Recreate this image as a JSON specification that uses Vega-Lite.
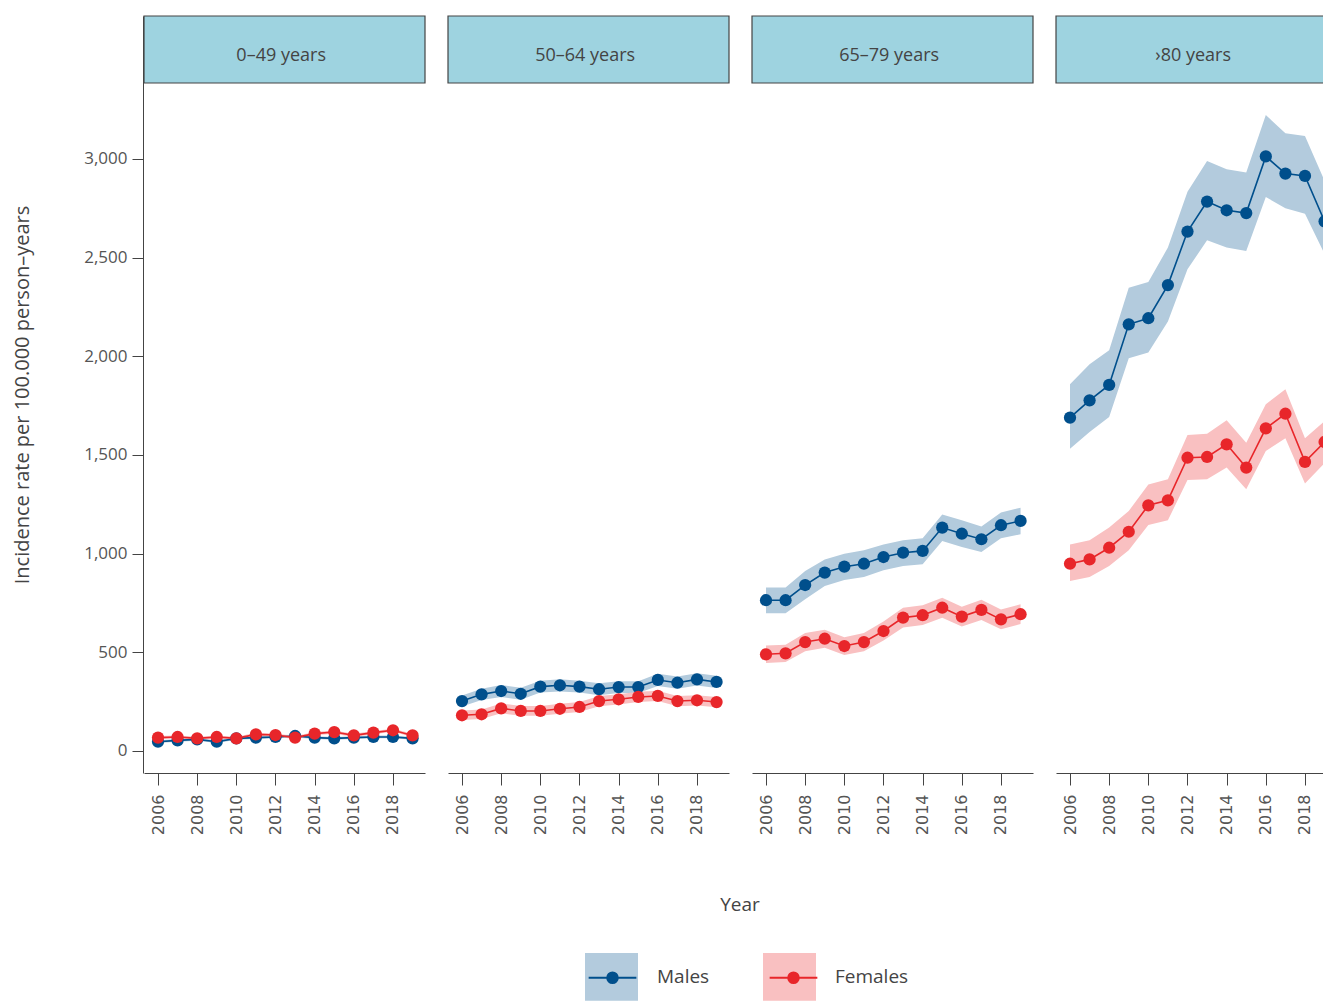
{
  "$schema": "https://vega.github.io/schema/vega-lite/v6.json",
  "padding": {"top": 15, "left": 12, "right": 0, "bottom": 0},
  "background": "white",
  "datasets": {
    "rates": [
      {"age": "0–49 years", "sex": "Males", "year": 2006, "rate": 47, "lo": 40, "hi": 54},
      {"age": "0–49 years", "sex": "Males", "year": 2007, "rate": 54, "lo": 47, "hi": 61},
      {"age": "0–49 years", "sex": "Males", "year": 2008, "rate": 59, "lo": 52, "hi": 66},
      {"age": "0–49 years", "sex": "Males", "year": 2009, "rate": 47, "lo": 40, "hi": 54},
      {"age": "0–49 years", "sex": "Males", "year": 2010, "rate": 64, "lo": 57, "hi": 71},
      {"age": "0–49 years", "sex": "Males", "year": 2011, "rate": 68, "lo": 61, "hi": 75},
      {"age": "0–49 years", "sex": "Males", "year": 2012, "rate": 71, "lo": 64, "hi": 78},
      {"age": "0–49 years", "sex": "Males", "year": 2013, "rate": 76, "lo": 69, "hi": 83},
      {"age": "0–49 years", "sex": "Males", "year": 2014, "rate": 68, "lo": 61, "hi": 75},
      {"age": "0–49 years", "sex": "Males", "year": 2015, "rate": 64, "lo": 57, "hi": 71},
      {"age": "0–49 years", "sex": "Males", "year": 2016, "rate": 68, "lo": 61, "hi": 75},
      {"age": "0–49 years", "sex": "Males", "year": 2017, "rate": 71, "lo": 64, "hi": 78},
      {"age": "0–49 years", "sex": "Males", "year": 2018, "rate": 71, "lo": 64, "hi": 78},
      {"age": "0–49 years", "sex": "Males", "year": 2019, "rate": 64, "lo": 57, "hi": 71},
      {"age": "0–49 years", "sex": "Females", "year": 2006, "rate": 68, "lo": 60, "hi": 76},
      {"age": "0–49 years", "sex": "Females", "year": 2007, "rate": 71, "lo": 63, "hi": 79},
      {"age": "0–49 years", "sex": "Females", "year": 2008, "rate": 64, "lo": 56, "hi": 72},
      {"age": "0–49 years", "sex": "Females", "year": 2009, "rate": 71, "lo": 63, "hi": 79},
      {"age": "0–49 years", "sex": "Females", "year": 2010, "rate": 64, "lo": 56, "hi": 72},
      {"age": "0–49 years", "sex": "Females", "year": 2011, "rate": 84, "lo": 76, "hi": 92},
      {"age": "0–49 years", "sex": "Females", "year": 2012, "rate": 81, "lo": 73, "hi": 89},
      {"age": "0–49 years", "sex": "Females", "year": 2013, "rate": 68, "lo": 60, "hi": 76},
      {"age": "0–49 years", "sex": "Females", "year": 2014, "rate": 88, "lo": 80, "hi": 96},
      {"age": "0–49 years", "sex": "Females", "year": 2015, "rate": 96, "lo": 88, "hi": 104},
      {"age": "0–49 years", "sex": "Females", "year": 2016, "rate": 79, "lo": 71, "hi": 87},
      {"age": "0–49 years", "sex": "Females", "year": 2017, "rate": 93, "lo": 85, "hi": 101},
      {"age": "0–49 years", "sex": "Females", "year": 2018, "rate": 105, "lo": 97, "hi": 113},
      {"age": "0–49 years", "sex": "Females", "year": 2019, "rate": 79, "lo": 71, "hi": 87},
      {"age": "50–64 years", "sex": "Males", "year": 2006, "rate": 253, "lo": 225, "hi": 281},
      {"age": "50–64 years", "sex": "Males", "year": 2007, "rate": 287, "lo": 258, "hi": 316},
      {"age": "50–64 years", "sex": "Males", "year": 2008, "rate": 304, "lo": 274, "hi": 334},
      {"age": "50–64 years", "sex": "Males", "year": 2009, "rate": 290, "lo": 260, "hi": 320},
      {"age": "50–64 years", "sex": "Males", "year": 2010, "rate": 326, "lo": 296, "hi": 356},
      {"age": "50–64 years", "sex": "Males", "year": 2011, "rate": 333, "lo": 302, "hi": 364},
      {"age": "50–64 years", "sex": "Males", "year": 2012, "rate": 326, "lo": 296, "hi": 356},
      {"age": "50–64 years", "sex": "Males", "year": 2013, "rate": 313, "lo": 283, "hi": 343},
      {"age": "50–64 years", "sex": "Males", "year": 2014, "rate": 324, "lo": 294, "hi": 354},
      {"age": "50–64 years", "sex": "Males", "year": 2015, "rate": 324, "lo": 294, "hi": 354},
      {"age": "50–64 years", "sex": "Males", "year": 2016, "rate": 360, "lo": 329, "hi": 391},
      {"age": "50–64 years", "sex": "Males", "year": 2017, "rate": 346, "lo": 315, "hi": 377},
      {"age": "50–64 years", "sex": "Males", "year": 2018, "rate": 363, "lo": 332, "hi": 394},
      {"age": "50–64 years", "sex": "Males", "year": 2019, "rate": 350, "lo": 319, "hi": 381},
      {"age": "50–64 years", "sex": "Females", "year": 2006, "rate": 181, "lo": 157, "hi": 205},
      {"age": "50–64 years", "sex": "Females", "year": 2007, "rate": 186, "lo": 162, "hi": 210},
      {"age": "50–64 years", "sex": "Females", "year": 2008, "rate": 216, "lo": 191, "hi": 241},
      {"age": "50–64 years", "sex": "Females", "year": 2009, "rate": 203, "lo": 178, "hi": 228},
      {"age": "50–64 years", "sex": "Females", "year": 2010, "rate": 203, "lo": 178, "hi": 228},
      {"age": "50–64 years", "sex": "Females", "year": 2011, "rate": 214, "lo": 189, "hi": 239},
      {"age": "50–64 years", "sex": "Females", "year": 2012, "rate": 223, "lo": 198, "hi": 248},
      {"age": "50–64 years", "sex": "Females", "year": 2013, "rate": 253, "lo": 227, "hi": 279},
      {"age": "50–64 years", "sex": "Females", "year": 2014, "rate": 262, "lo": 236, "hi": 288},
      {"age": "50–64 years", "sex": "Females", "year": 2015, "rate": 274, "lo": 248, "hi": 300},
      {"age": "50–64 years", "sex": "Females", "year": 2016, "rate": 279, "lo": 253, "hi": 305},
      {"age": "50–64 years", "sex": "Females", "year": 2017, "rate": 253, "lo": 227, "hi": 279},
      {"age": "50–64 years", "sex": "Females", "year": 2018, "rate": 257, "lo": 231, "hi": 283},
      {"age": "50–64 years", "sex": "Females", "year": 2019, "rate": 248, "lo": 222, "hi": 274},
      {"age": "65–79 years", "sex": "Males", "year": 2006, "rate": 764, "lo": 698, "hi": 828},
      {"age": "65–79 years", "sex": "Males", "year": 2007, "rate": 764, "lo": 698, "hi": 828},
      {"age": "65–79 years", "sex": "Males", "year": 2008, "rate": 841, "lo": 769, "hi": 912},
      {"age": "65–79 years", "sex": "Males", "year": 2009, "rate": 904, "lo": 836, "hi": 971},
      {"age": "65–79 years", "sex": "Males", "year": 2010, "rate": 934, "lo": 867, "hi": 1000},
      {"age": "65–79 years", "sex": "Males", "year": 2011, "rate": 949, "lo": 882, "hi": 1017},
      {"age": "65–79 years", "sex": "Males", "year": 2012, "rate": 983, "lo": 916, "hi": 1047},
      {"age": "65–79 years", "sex": "Males", "year": 2013, "rate": 1005, "lo": 938, "hi": 1068},
      {"age": "65–79 years", "sex": "Males", "year": 2014, "rate": 1014, "lo": 946, "hi": 1078},
      {"age": "65–79 years", "sex": "Males", "year": 2015, "rate": 1132, "lo": 1064, "hi": 1199},
      {"age": "65–79 years", "sex": "Males", "year": 2016, "rate": 1101, "lo": 1034, "hi": 1169},
      {"age": "65–79 years", "sex": "Males", "year": 2017, "rate": 1073, "lo": 1008, "hi": 1137},
      {"age": "65–79 years", "sex": "Males", "year": 2018, "rate": 1144, "lo": 1078, "hi": 1208},
      {"age": "65–79 years", "sex": "Males", "year": 2019, "rate": 1166, "lo": 1098, "hi": 1233},
      {"age": "65–79 years", "sex": "Females", "year": 2006, "rate": 490, "lo": 446, "hi": 534},
      {"age": "65–79 years", "sex": "Females", "year": 2007, "rate": 495, "lo": 451, "hi": 539},
      {"age": "65–79 years", "sex": "Females", "year": 2008, "rate": 552, "lo": 506, "hi": 598},
      {"age": "65–79 years", "sex": "Females", "year": 2009, "rate": 569, "lo": 523, "hi": 615},
      {"age": "65–79 years", "sex": "Females", "year": 2010, "rate": 532, "lo": 487, "hi": 577},
      {"age": "65–79 years", "sex": "Females", "year": 2011, "rate": 552, "lo": 506, "hi": 598},
      {"age": "65–79 years", "sex": "Females", "year": 2012, "rate": 608, "lo": 560, "hi": 656},
      {"age": "65–79 years", "sex": "Females", "year": 2013, "rate": 676, "lo": 626, "hi": 726},
      {"age": "65–79 years", "sex": "Females", "year": 2014, "rate": 688, "lo": 638, "hi": 738},
      {"age": "65–79 years", "sex": "Females", "year": 2015, "rate": 726, "lo": 675, "hi": 777},
      {"age": "65–79 years", "sex": "Females", "year": 2016, "rate": 681, "lo": 631, "hi": 731},
      {"age": "65–79 years", "sex": "Females", "year": 2017, "rate": 715, "lo": 664, "hi": 766},
      {"age": "65–79 years", "sex": "Females", "year": 2018, "rate": 667, "lo": 617, "hi": 717},
      {"age": "65–79 years", "sex": "Females", "year": 2019, "rate": 693, "lo": 643, "hi": 743},
      {"age": "›80 years", "sex": "Males", "year": 2006, "rate": 1689, "lo": 1532, "hi": 1858},
      {"age": "›80 years", "sex": "Males", "year": 2007, "rate": 1777, "lo": 1617, "hi": 1960},
      {"age": "›80 years", "sex": "Males", "year": 2008, "rate": 1855, "lo": 1693, "hi": 2031},
      {"age": "›80 years", "sex": "Males", "year": 2009, "rate": 2162, "lo": 1990, "hi": 2348},
      {"age": "›80 years", "sex": "Males", "year": 2010, "rate": 2193, "lo": 2019, "hi": 2377},
      {"age": "›80 years", "sex": "Males", "year": 2011, "rate": 2361, "lo": 2176, "hi": 2551},
      {"age": "›80 years", "sex": "Males", "year": 2012, "rate": 2632, "lo": 2441, "hi": 2834},
      {"age": "›80 years", "sex": "Males", "year": 2013, "rate": 2784, "lo": 2588, "hi": 2990},
      {"age": "›80 years", "sex": "Males", "year": 2014, "rate": 2740, "lo": 2551, "hi": 2948},
      {"age": "›80 years", "sex": "Males", "year": 2015, "rate": 2726, "lo": 2534, "hi": 2931},
      {"age": "›80 years", "sex": "Males", "year": 2016, "rate": 3013, "lo": 2807, "hi": 3223},
      {"age": "›80 years", "sex": "Males", "year": 2017, "rate": 2926, "lo": 2750, "hi": 3130},
      {"age": "›80 years", "sex": "Males", "year": 2018, "rate": 2914, "lo": 2723, "hi": 3117},
      {"age": "›80 years", "sex": "Males", "year": 2019, "rate": 2684, "lo": 2519, "hi": 2889},
      {"age": "›80 years", "sex": "Females", "year": 2006, "rate": 949, "lo": 862, "hi": 1047},
      {"age": "›80 years", "sex": "Females", "year": 2007, "rate": 971, "lo": 882, "hi": 1068},
      {"age": "›80 years", "sex": "Females", "year": 2008, "rate": 1030, "lo": 938, "hi": 1132},
      {"age": "›80 years", "sex": "Females", "year": 2009, "rate": 1111, "lo": 1017, "hi": 1216},
      {"age": "›80 years", "sex": "Females", "year": 2010, "rate": 1245, "lo": 1145, "hi": 1351},
      {"age": "›80 years", "sex": "Females", "year": 2011, "rate": 1270, "lo": 1169, "hi": 1377},
      {"age": "›80 years", "sex": "Females", "year": 2012, "rate": 1486, "lo": 1373, "hi": 1601},
      {"age": "›80 years", "sex": "Females", "year": 2013, "rate": 1490, "lo": 1377, "hi": 1608},
      {"age": "›80 years", "sex": "Females", "year": 2014, "rate": 1554, "lo": 1436, "hi": 1676},
      {"age": "›80 years", "sex": "Females", "year": 2015, "rate": 1436, "lo": 1326, "hi": 1562},
      {"age": "›80 years", "sex": "Females", "year": 2016, "rate": 1635, "lo": 1520, "hi": 1757},
      {"age": "›80 years", "sex": "Females", "year": 2017, "rate": 1709, "lo": 1585, "hi": 1833},
      {"age": "›80 years", "sex": "Females", "year": 2018, "rate": 1465, "lo": 1355, "hi": 1585},
      {"age": "›80 years", "sex": "Females", "year": 2019, "rate": 1566, "lo": 1459, "hi": 1672}
    ]
  },
  "data": {"name": "rates"},
  "facet": {
    "column": {
      "field": "age",
      "type": "nominal",
      "sort": ["0–49 years", "50–64 years", "65–79 years", "›80 years"],
      "title": "Year",
      "header": {
        "labels": false,
        "titleOrient": "bottom",
        "titleFont": "Open Sans",
        "titleFontSize": 19,
        "titleFontWeight": "normal",
        "titleColor": "#444444",
        "titlePadding": 51
      }
    }
  },
  "spacing": 21,
  "spec": {
    "width": 281,
    "height": 757,
    "layer": [
      {
        "transform": [{"filter": "datum.year == 2006 && datum.sex == 'Males'"}],
        "mark": {"type": "rect", "fill": "#9ed3e0", "stroke": "#444444", "strokeWidth": 1.2},
        "encoding": {
          "x": {"datum": 2005.285, "type": "quantitative"},
          "x2": {"datum": 2019.635},
          "y": {"datum": 3385, "type": "quantitative"},
          "y2": {"datum": 3724.5}
        }
      },
      {
        "transform": [{"filter": "datum.year == 2006 && datum.sex == 'Males'"}],
        "mark": {"type": "text", "font": "Open Sans", "fontSize": 18, "color": "#444444", "align": "center", "baseline": "middle"},
        "encoding": {
          "x": {"datum": 2012.29, "type": "quantitative"},
          "y": {"datum": 3522, "type": "quantitative"},
          "text": {"field": "age"}
        }
      },
      {
        "mark": {"type": "area", "opacity": 1},
        "encoding": {
          "x": {"field": "year", "type": "quantitative"},
          "y": {"field": "lo", "type": "quantitative"},
          "y2": {"field": "hi"},
          "color": {
            "field": "sex", "type": "nominal", "sort": "descending",
            "scale": {"range": ["#b3cbdd", "#f9c0c1"]},
            "legend": {
              "title": null, "orient": "none", "direction": "horizontal", "zindex": 1,
              "legendX": 441, "legendY": 934,
              "symbolType": "M-1,-0.9H1V0.9H-1Z", "symbolSize": 2809, "symbolStrokeWidth": 0,
              "labelFont": "Open Sans", "labelFontSize": 19, "labelColor": "#444444",
              "labelOffset": 19, "columnPadding": 53,
              "encode": {
                "symbols": {"update": {
                  "fill": {"scale": "stroke", "field": "value"},
                  "fillOpacity": {"value": 0.3},
                  "opacity": {"value": 1}
                }},
                "labels": {"update": {"dy": {"value": 6}}}
              }
            }
          }
        }
      },
      {
        "mark": {"type": "line", "strokeWidth": 1.6},
        "encoding": {
          "x": {"field": "year", "type": "quantitative"},
          "y": {"field": "rate", "type": "quantitative"},
          "stroke": {
            "field": "sex", "type": "nominal",
            "scale": {"domain": ["Males", "Females"], "range": ["#004f8c", "#e8262a"]},
            "legend": {
              "title": null, "orient": "none", "direction": "horizontal", "zindex": 2,
              "legendX": 441, "legendY": 934,
              "symbolType": "M -0.9 0 L 0.9 0 M 0.2 0 A 0.2 0.2 0 1 0 -0.2 0 A 0.2 0.2 0 1 0 0.2 0 Z M 0.145 0 A 0.145 0.145 0 1 0 -0.145 0 A 0.145 0.145 0 1 0 0.145 0 Z M 0.09 0 A 0.09 0.09 0 1 0 -0.09 0 A 0.09 0.09 0 1 0 0.09 0 Z M 0.035 0 A 0.035 0.035 0 1 0 -0.035 0 A 0.035 0.035 0 1 0 0.035 0 Z",
              "symbolSize": 2809, "symbolStrokeWidth": 2,
              "labelFont": "Open Sans", "labelFontSize": 19, "labelColor": "#444444", "labelOpacity": 0,
              "labelOffset": 19, "columnPadding": 53,
              "encode": {
                "symbols": {"update": {
                  "fill": {"scale": "stroke", "field": "value"},
                  "stroke": {"scale": "stroke", "field": "value"},
                  "fillOpacity": {"value": 1},
                  "opacity": {"value": 1}
                }},
                "labels": {"update": {"dy": {"value": 6}}}
              }
            }
          }
        }
      },
      {
        "mark": {"type": "point", "filled": true, "opacity": 1, "size": 150},
        "encoding": {
          "x": {
            "field": "year", "type": "quantitative",
            "scale": {"domain": [2005.285, 2019.635], "nice": false, "zero": false},
            "axis": {
              "title": null, "values": [2006, 2008, 2010, 2012, 2014, 2016, 2018], "format": "d",
              "labelAngle": 270, "labelFont": "DejaVu Sans", "labelFontSize": 16, "labelColor": "#555555",
              "labelPadding": 9, "tickSize": 12, "tickColor": "#444444", "domainColor": "#444444",
              "grid": false
            }
          },
          "y": {
            "field": "rate", "type": "quantitative",
            "scale": {"domain": [-111.5, 3724.5], "nice": false, "zero": false},
            "axis": {
              "title": "Incidence rate per 100.000 person–years",
              "values": [0, 500, 1000, 1500, 2000, 2500, 3000], "format": ",.0f",
              "labelFont": "Open Sans", "labelFontSize": 17, "labelColor": "#555555",
              "labelPadding": 5, "tickSize": 11, "tickColor": "#444444", "domainColor": "#444444",
              "grid": false, "titleFont": "Open Sans", "titleFontSize": 20, "titleFontWeight": "normal",
              "titleColor": "#444444", "titlePadding": 51
            }
          },
          "fill": {
            "field": "sex", "type": "nominal",
            "scale": {"domain": ["Males", "Females"], "range": ["#004f8c", "#e8262a"]},
            "legend": null
          }
        }
      }
    ]
  },
  "resolve": {"scale": {"x": "shared", "y": "shared"}},
  "config": {
    "view": {"stroke": null},
    "font": "Open Sans"
  }
}
